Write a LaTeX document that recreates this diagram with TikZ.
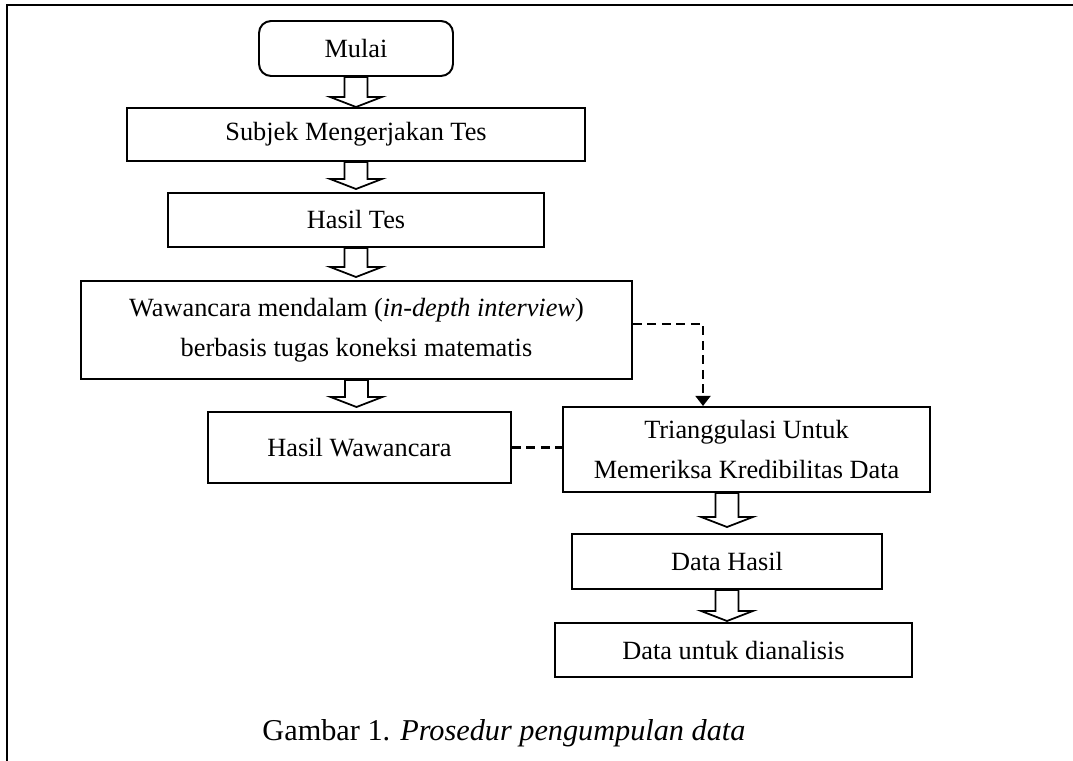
\documentclass[tikz,border=0pt]{standalone}
\usepackage{fontspec}
\setmainfont{Liberation Serif}
\usetikzlibrary{calc,arrows.meta}
\newcommand\pxu{0.456pt}
\newcommand\blk[2]{%
  \draw[blkarrow] ($(#1)+(-5.2pt,0)$) -- ($(#2)+(-5.2pt,4.6pt)$) -- ($(#2)+(-11.9pt,4.6pt)$) -- (#2)
    -- ($(#2)+(11.9pt,4.6pt)$) -- ($(#2)+(5.2pt,4.6pt)$) -- ($(#1)+(5.2pt,0)$) -- cycle;}
\begin{document}
\begin{tikzpicture}[x=0.456pt,y=-0.456pt,
  box/.style={draw,line width=0.9pt,inner sep=0pt,font=\fontsize{12}{18}\selectfont,align=center},
  blkarrow/.style={draw,line width=0.8pt,fill=white,line join=miter},
  dashline/.style={line width=1pt,dash pattern=on 4pt off 2.6pt}]
\useasboundingbox (0,0) rectangle (1073,761);
\draw[line width=1pt] (7,761) -- (7,5) -- (1073,5);

\node[box,rounded corners=5.5pt,minimum width=194*\pxu,minimum height=55*\pxu] (mulai) at (356,48.5) {Mulai};
\node[box,minimum width=458*\pxu,minimum height=53*\pxu] (subjek) at (356,134.5) {Subjek Mengerjakan Tes};
\node[box,minimum width=376*\pxu,minimum height=54*\pxu] (tes) at (356,220) {Hasil Tes};
\node[box,minimum width=551*\pxu,minimum height=98*\pxu] (waw) at (356.5,330) {Wawancara mendalam (\textit{in-depth interview})\\berbasis tugas koneksi matematis};
\node[box,minimum width=303*\pxu,minimum height=71*\pxu] (hw) at (359.5,447.5) {Hasil Wawancara};
\node[box,minimum width=367*\pxu,minimum height=85*\pxu] (tri) at (746.5,449.5) {Trianggulasi Untuk\\Memeriksa Kredibilitas Data};
\node[box,minimum width=310*\pxu,minimum height=55*\pxu] (dh) at (727,561.5) {Data Hasil};
\node[box,minimum width=357*\pxu,minimum height=54*\pxu] (du) at (733.5,650) {Data untuk dianalisis};

\coordinate (s1) at (mulai.south);
\coordinate (e1) at (s1 |- subjek.north);
\coordinate (s2) at (subjek.south);
\coordinate (e2a) at (s2 |- tes.north);
\coordinate (e2) at ($(e2a)+(0,-3)$);
\coordinate (s3) at (tes.south);
\coordinate (e3a) at (s3 |- waw.north);
\coordinate (e3) at ($(e3a)+(0,-3)$);
\coordinate (s4) at (waw.south);
\coordinate (e4a) at (s4 |- hw.north);
\coordinate (e4) at ($(e4a)+(0,-4)$);
\coordinate (s5) at (tri.south -| dh.north);
\coordinate (e5a) at ($(dh.north)+(0,-6)$);
\coordinate (s6) at (dh.south);
\coordinate (e6a) at (dh.south |- du.north);
\coordinate (e6) at ($(e6a)+(0,-1)$);

\blk{s1}{e1}
\blk{s2}{e2}
\blk{s3}{e3}
\blk{s4}{e4}
\blk{s5}{e5a}
\blk{s6}{e6}

\coordinate (bend) at (703,324);
\draw[dashline,-{Triangle[length=4.6pt,width=6.8pt]}] (bend -| waw.east) -- (bend) -- (bend |- tri.north);
\draw[dashline] (hw.east) -- (hw.east -| tri.west);

\node[font=\fontsize{13.8}{16}\selectfont] (cap) at (504,733) {Gambar 1. \textit{Prosedur pengumpulan data}};
\end{tikzpicture}
\end{document}
